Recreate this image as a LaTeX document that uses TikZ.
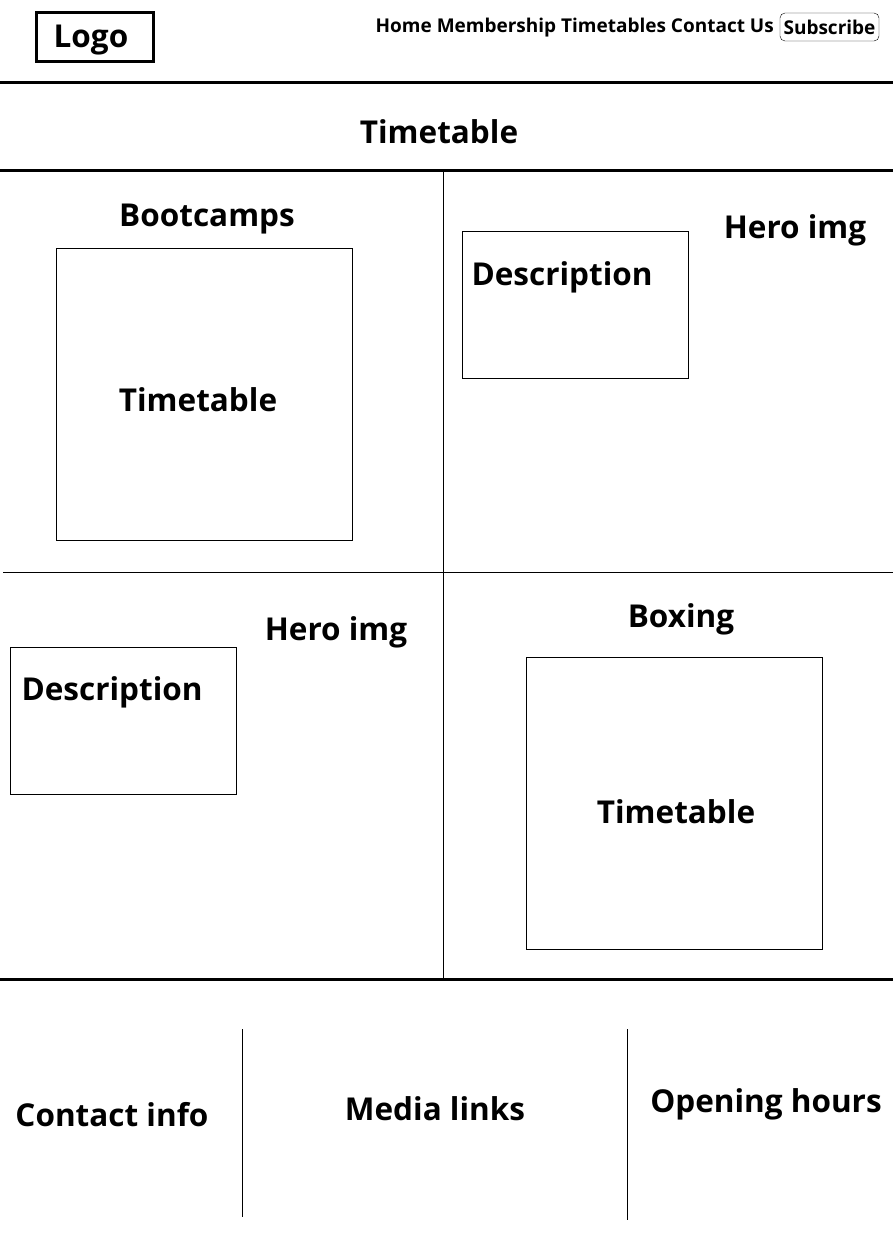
\documentclass[tikz,border=0pt]{standalone}
\usepackage{fontspec}
\setmainfont{Open Sans}[BoldFont={Open Sans Bold}]
\usetikzlibrary{positioning}

\begin{document}
\begin{tikzpicture}[x=1pt, y=-1pt, font=\bfseries,
      heavy/.style={line width=3pt},
      light/.style={line width=0.9pt},
      frame/.style={draw, light, inner sep=0pt},
      label/.style={font=\fontsize{31.5}{36}\selectfont\bfseries},
      navitem/.style={font=\fontsize{19}{22}\selectfont\bfseries, inner sep=1pt},]
  %.
  \useasboundingbox (0,0) rectangle (893,1254);
  % header
  \node[draw, heavy, minimum width=117pt, minimum height=49pt] (logo) at (94.5,36.5) {};
  \node[label] (logotext) at (91,40) {Logo};
  \node[draw, rounded corners=5pt, minimum width=99pt, minimum height=28pt, navitem] (subscribe) at (829.5,27) {Subscribe};
  \node[navitem, anchor=east] (nav) at (775,28) {Home Membership Timetables Contact Us};
  \draw[heavy] (0,82) -- (893,82);
  \node[label] (title) at (439,132) {Timetable};
  \draw[heavy] (0,170) -- (893,170);
  % grid
  \coordinate (midtop) at (443,170);
  \coordinate (midbot) at (443,979);
  \draw[light] (midtop) -- (midbot);
  \draw[light] (3,572) -- (893,572);
  % top left
  \node[label] (bootcamps) at (207,219) {Bootcamps};
  \node[frame, minimum width=296pt, minimum height=292pt] (tlbox) at (204,394) {};
  \node[label] (tltable) at (198,400) {Timetable};
  % top right
  \node[label] (trhero) at (795,230) {Hero img};
  \node[frame, minimum width=226pt, minimum height=147pt] (trbox) at (575,304.5) {};
  \node[label, anchor=west] (trdesc) at (468,277) {Description};
  % bottom left
  \node[label] (blhero) at (336,632) {Hero img};
  \node[frame, minimum width=226pt, minimum height=147pt] (blbox) at (123,720.5) {};
  \node[label, anchor=west] (bldesc) at (18,692) {Description};
  % bottom right
  \node[label] (boxing) at (681,619) {Boxing};
  \node[frame, minimum width=296pt, minimum height=292pt] (brbox) at (674,803) {};
  \node[label] (brtable) at (676,812) {Timetable};
  \draw[heavy] (0,979) -- (893,979);
  % footer
  \draw[light] (242,1029) -- (242,1217);
  \draw[light] (627,1029) -- (627,1220);
  \node[label] (contact) at (112,1115) {Contact info};
  \node[label] (media) at (435,1109) {Media links};
  \node[label] (hours) at (766,1104) {Opening hours};
  %.
\end{tikzpicture}
\end{document}
